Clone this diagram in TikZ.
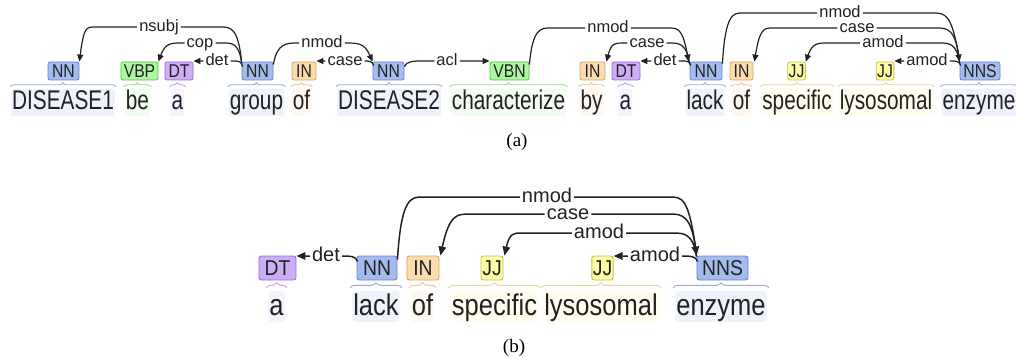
\documentclass[tikz,border=0pt]{standalone}
\usepackage{fontspec}
\usetikzlibrary{arrows.meta,calc,decorations.pathreplacing}
\newfontfamily\wordfont[FakeStretch=0.77]{Liberation Sans}
\newfontfamily\wordfontB[FakeStretch=0.85]{Liberation Sans}
\newfontfamily\tagfont[FakeStretch=0.85]{Liberation Sans}
\newfontfamily\tagfontB[FakeStretch=0.9]{Liberation Sans}
\newfontfamily\labfont{Liberation Sans}
\newfontfamily\capfont{Liberation Serif}
\definecolor{nnF}{HTML}{A4BCED}\definecolor{nnD}{HTML}{6D85CB}\definecolor{nnB}{HTML}{9AACDA}\definecolor{nnW}{HTML}{EEF2FB}
\definecolor{vbF}{HTML}{ADF6A2}\definecolor{vbD}{HTML}{5DBB4F}\definecolor{vbB}{HTML}{9ED893}\definecolor{vbW}{HTML}{F3FCF1}
\definecolor{dtF}{HTML}{CCADF6}\definecolor{dtD}{HTML}{9A6CD6}\definecolor{dtB}{HTML}{C2A5E8}\definecolor{dtW}{HTML}{F6F1FD}
\definecolor{inF}{HTML}{FBDCAE}\definecolor{inD}{HTML}{DFA45C}\definecolor{inB}{HTML}{EDC690}\definecolor{inW}{HTML}{FEF8F0}
\definecolor{jjF}{HTML}{FFFDA8}\definecolor{jjD}{HTML}{C7C24E}\definecolor{jjB}{HTML}{E0DC98}\definecolor{jjW}{HTML}{FFFEEE}
\definecolor{ink}{HTML}{222222}
\tikzset{
 tagA/.style={draw=#1D, fill=#1F, rounded corners=2pt, line width=0.8pt, inner xsep=1pt, inner ysep=0pt, minimum height=18pt, text=ink, font=\tagfont\fontsize{18.5}{18.5}\selectfont},
 tagB/.style={draw=#1D, fill=#1F, rounded corners=2.5pt, line width=0.9pt, inner xsep=1pt, inner ysep=0pt, minimum height=24pt, text=ink, font=\tagfontB\fontsize{21.5}{21.5}\selectfont},
 wordA/.style={fill=#1W, rounded corners=2pt, anchor=base, inner xsep=1pt, inner ysep=1pt, text height=20pt, text depth=5pt, text=ink, font=\wordfont\fontsize{27}{27}\selectfont},
 wordB/.style={fill=#1W, rounded corners=3pt, anchor=base, inner xsep=1pt, inner ysep=1pt, text height=23pt, text depth=6pt, text=ink, font=\wordfontB\fontsize{30}{30}\selectfont},
 brA/.style={draw=#1B, line width=0.9pt, decorate, decoration={brace, amplitude=4pt}},
 brB/.style={draw=#1B, line width=1pt, decorate, decoration={brace, amplitude=5pt}},
 labA/.style={inner xsep=2pt, inner ysep=0pt, text height=12pt, text depth=3pt, text=ink, font=\labfont\fontsize{16.5}{16.5}\selectfont},
 labB/.style={inner xsep=2pt, inner ysep=0pt, text height=15pt, text depth=5pt, text=ink, font=\labfont\fontsize{20}{20}\selectfont},
 arc/.style={draw=ink, line width=1.2pt, -{Triangle[length=7pt,width=6pt]}},
 arcb/.style={line width=1.5pt, -{Triangle[length=9pt,width=7.5pt]}},
 capt/.style={text=black, font=\capfont\fontsize{19}{19}\selectfont}
}
\newcommand{\arcL}[6][]{%
  \draw[arc,#1] let \p1=#2, \p2=(#3.center), \p3=#4 in
    #2 .. controls (\x1-0.15*#5pt,\y2) and (\x1-0.55*#5pt,\y2) .. (\x1-#5pt,\y2) -- (#3.east)
    (#3.west) -- (\x3+#6pt,\y2) .. controls (\x3+0.55*#6pt,\y2) and (\x3+0.3*#6pt,\y2) .. #4;}
\newcommand{\arcR}[6][]{%
  \draw[arc,#1] let \p1=#2, \p2=(#3.center), \p3=#4 in
    #2 .. controls (\x1+0.15*#5pt,\y2) and (\x1+0.55*#5pt,\y2) .. (\x1+#5pt,\y2) -- (#3.west)
    (#3.east) -- (\x3-#6pt,\y2) .. controls (\x3-0.55*#6pt,\y2) and (\x3-0.3*#6pt,\y2) .. #4;}
\newcommand{\lowL}[5][]{%
  \draw[arc,#1] let \p1=#2, \p2=(#3.center) in
    #2 .. controls (\x1-0.1*#5pt,\y2) and (\x1-0.5*#5pt,\y2) .. (\x1-#5pt,\y2) -- (#3.east)
    (#3.west) -- (#3.west -| #4);}
\newcommand{\lowR}[5][]{%
  \draw[arc,#1] let \p1=#2, \p2=(#3.center) in
    #2 .. controls (\x1+0.1*#5pt,\y2) and (\x1+0.5*#5pt,\y2) .. (\x1+#5pt,\y2) -- (#3.west)
    (#3.east) -- (#3.east -| #4);}
\begin{document}
\begin{tikzpicture}[x=1pt,y=-1pt]
\fill[white] (0,0) rectangle (1016,358);
\useasboundingbox (0,0) rectangle (1016,358);
% ---------- (a) words ----------
\node[wordA=nn] (wa1) at (63,110) {DISEASE1};
\node[wordA=vb] (wa2) at (137.5,110) {be};
\node[wordA=dt] (wa3) at (177.5,110) {a};
\node[wordA=nn] (wa4) at (256.5,110) {group};
\node[wordA=in] (wa5) at (301.5,110) {of};
\node[wordA=nn] (wa6) at (389,110) {DISEASE2};
\node[wordA=vb] (wa7) at (508.5,110) {characterize};
\node[wordA=in] (wa8) at (591.5,110) {by};
\node[wordA=dt] (wa9) at (625.5,110) {a};
\node[wordA=nn] (wa10) at (705,110) {lack};
\node[wordA=in] (wa11) at (741.5,110) {of};
\node[wordA=jj] (wa12) at (797,110) {specific};
\node[wordA=jj] (wa13) at (886,110) {lysosomal};
\node[wordA=nn] (wa14) at (979,110) {enzyme};
\foreach \w/\c in {wa1/nn,wa2/vb,wa3/dt,wa4/nn,wa5/in,wa6/nn,wa7/vb,wa8/in,wa9/dt,wa10/nn,wa11/in,wa12/jj,wa13/jj,wa14/nn}
  \draw[brA=\c] ([shift={(-1,-2)}]\w.north west) -- ([shift={(1,-2)}]\w.north east);
% ---------- (a) tags ----------
\node[tagA=nn, minimum width=31pt] (a1) at (63.5,71) {NN};
\node[tagA=vb, minimum width=37pt] (a2) at (139.5,71) {VBP};
\node[tagA=dt, minimum width=28pt] (a3) at (179,71) {DT};
\node[tagA=nn, minimum width=31pt] (a4) at (257.5,71) {NN};
\node[tagA=in, minimum width=24pt] (a5) at (304,71) {IN};
\node[tagA=nn, minimum width=31pt] (a6) at (388.5,71) {NN};
\node[tagA=vb, minimum width=39pt] (a7) at (509.5,71) {VBN};
\node[tagA=in, minimum width=25pt] (a8) at (592.5,71) {IN};
\node[tagA=dt, minimum width=28pt] (a9) at (626,71) {DT};
\node[tagA=nn, minimum width=32pt] (a10) at (706,71) {NN};
\node[tagA=in, minimum width=23pt] (a11) at (741.5,71) {IN};
\node[tagA=jj, minimum width=17pt] (a12) at (796.5,71) {JJ};
\node[tagA=jj, minimum width=16pt] (a13) at (885,71) {JJ};
\node[tagA=nn, minimum width=40pt] (a14) at (980,71) {NNS};
% ---------- (a) labels ----------
\node[labA] (lA1) at (159,27) {nsubj};
\node[labA] (lA2) at (200,43) {cop};
\node[labA] (lA3) at (217,61) {det};
\node[labA] (lA4) at (322,43) {nmod};
\node[labA] (lA5) at (345,61) {case};
\node[labA] (lA6) at (447,61) {acl};
\node[labA] (lA7) at (608,28) {nmod};
\node[labA] (lA8) at (647,43) {case};
\node[labA] (lA9) at (665,61) {det};
\node[labA] (lA10) at (840,13) {nmod};
\node[labA] (lA11) at (857,28) {case};
\node[labA] (lA12) at (883,43) {amod};
\node[labA] (lA13) at (927,61) {amod};
% ---------- (a) arcs ----------
\arcL{($(a4.north west)+(0,1)$)}{lA1}{(a1.north east)}{21}{14}
\arcL{($(a4.north west)+(0,1)$)}{lA2}{(a2.north east)}{18}{23}
\lowL{($(a4.north west)+(1,5)$)}{lA3}{a3.east}{9}
\arcR{($(a4.north east)+(0,3)$)}{lA4}{(a6.north west)}{24}{27}
\lowL{($(a6.north west)+(1,4)$)}{lA5}{a5.east}{9}
\lowR{($(a6.north east)+(0,5)$)}{lA6}{a7.west}{19}
\arcR{($(a7.north east)+(0,3)$)}{lA7}{($(a10.north west)+(-1,0)$)}{21}{20}
\arcL{($(a10.north west)+(0,2)$)}{lA8}{($(a8.north east)+(1,0)$)}{20}{16}
\lowL{($(a10.north west)+(1,4)$)}{lA9}{a9.east}{8}
\arcR{($(a10.north east)+(0,2)$)}{lA10}{(a14.north west)}{20}{27}
\arcL{($(a14.north west)+(0,1)$)}{lA11}{($(a11.north east)+(1,0)$)}{23}{18}
\arcL{($(a14.north west)+(0,1)$)}{lA12}{(a12.north east)}{20}{22}
\lowL{($(a14.north west)+(1,4)$)}{lA13}{a13.east}{10}
\node[capt] (capA) at (517,142) {(a)};
% ---------- (b) words ----------
\node[wordB=dt] (wb1) at (276.5,315) {a};
\node[wordB=nn] (wb2) at (376,315) {lack};
\node[wordB=in] (wb3) at (422.5,315) {of};
\node[wordB=jj] (wb4) at (494.5,315) {specific};
\node[wordB=jj] (wb5) at (601,315) {lysosomal};
\node[wordB=nn] (wb6) at (721,315) {enzyme};
\foreach \w/\c in {wb1/dt,wb2/nn,wb3/in,wb4/jj,wb5/jj,wb6/nn}
  \draw[brB=\c] ([shift={(-2,-3)}]\w.north west) -- ([shift={(2,-3)}]\w.north east);
% ---------- (b) tags ----------
\node[tagB=dt, minimum width=37pt] (b1) at (277.5,268) {DT};
\node[tagB=nn, minimum width=40pt] (b2) at (377,268) {NN};
\node[tagB=in, minimum width=32pt] (b3) at (423,268) {IN};
\node[tagB=jj, minimum width=22pt] (b4) at (492,268) {JJ};
\node[tagB=jj, minimum width=21pt] (b5) at (602.5,268) {JJ};
\node[tagB=nn, minimum width=51pt] (b6) at (722.5,268) {NNS};
% ---------- (b) labels ----------
\node[labB] (lB1) at (326,256) {det};
\node[labB] (lB2) at (547,197) {nmod};
\node[labB] (lB3) at (568,214) {case};
\node[labB] (lB4) at (599,233) {amod};
\node[labB] (lB5) at (655,256) {amod};
% ---------- (b) arcs ----------
\lowL[arcb]{($(b2.north west)+(1,6)$)}{lB1}{b1.east}{15}
\arcR[arcb]{($(b2.north east)+(0,4)$)}{lB2}{(b6.north west)}{25}{27}
\arcL[arcb]{($(b6.north west)+(0,1)$)}{lB3}{($(b3.north east)+(1,0)$)}{27}{30}
\arcL[arcb]{($(b6.north west)+(0,1)$)}{lB4}{($(b4.north east)+(1,0)$)}{24}{17}
\lowL[arcb]{($(b6.north west)+(1,6)$)}{lB5}{b5.east}{15}
\node[capt] (capB) at (514,348) {(b)};
\end{tikzpicture}
\end{document}
